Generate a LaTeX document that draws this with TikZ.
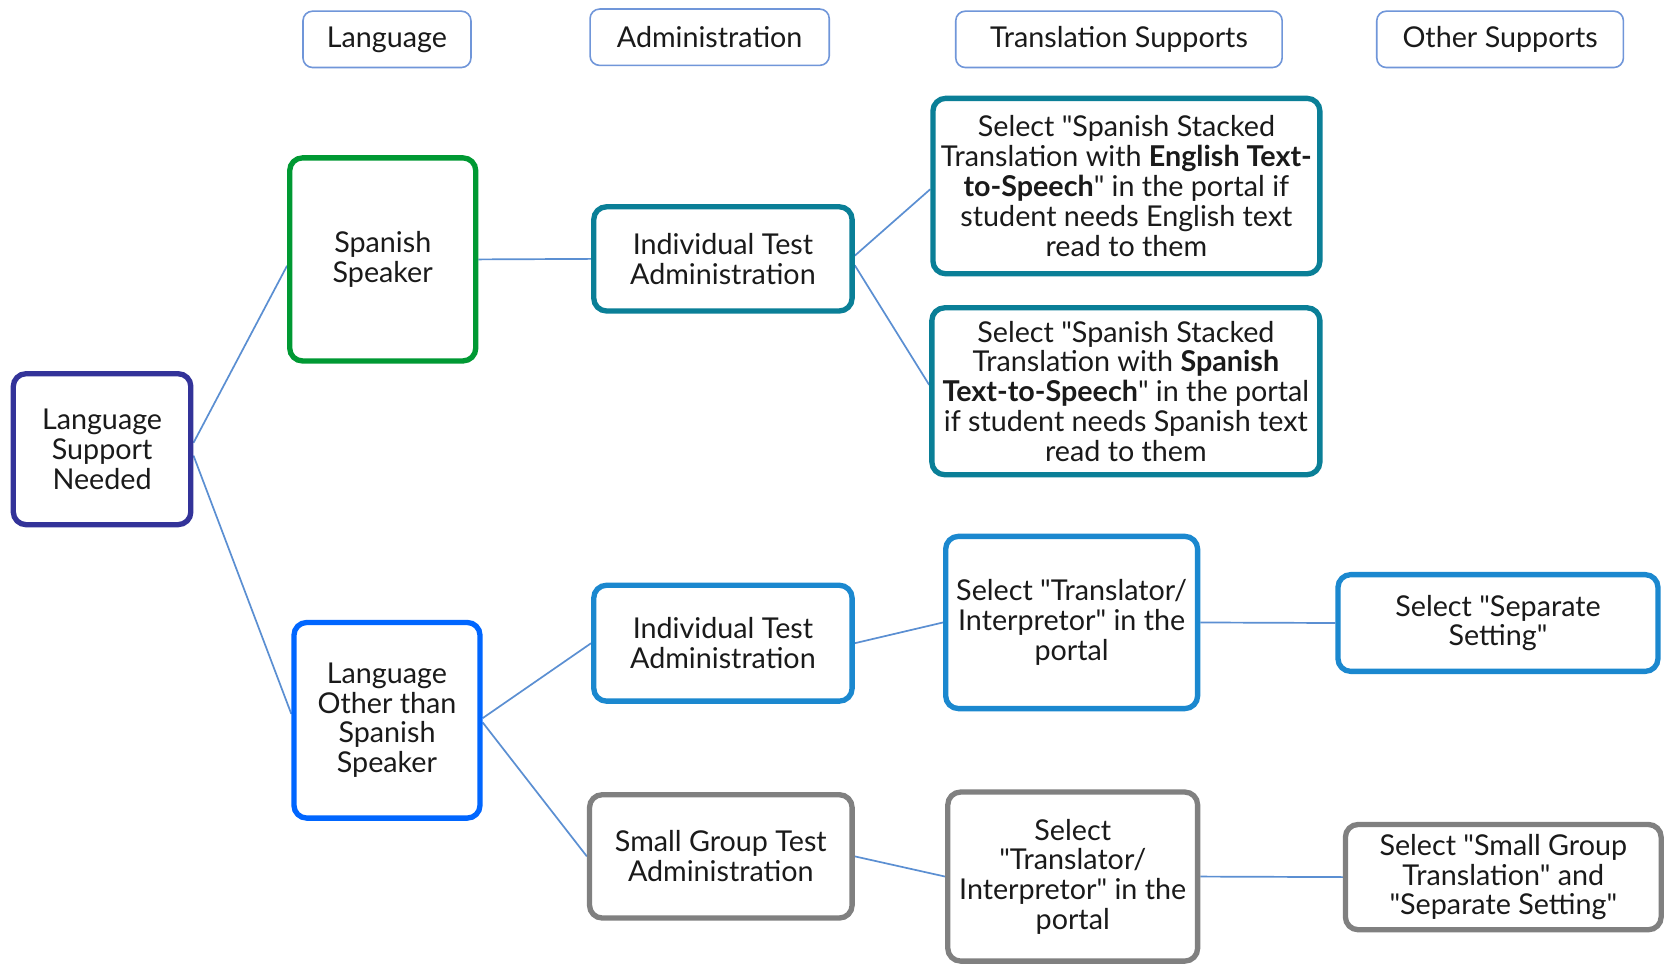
\documentclass[tikz,border=0pt]{standalone}
\usepackage{fontspec}
\setmainfont{Lato}[Ligatures=TeXOff]
\usetikzlibrary{backgrounds}
\pgfdeclarelayer{bgzero}
\pgfsetlayers{bgzero,background,main}
\definecolor{indigoc}{HTML}{333399}
\definecolor{greenc}{HTML}{009933}
\definecolor{tealc}{HTML}{0A7F97}
\definecolor{bluec}{HTML}{0066FF}
\definecolor{medblue}{HTML}{1B88CF}
\definecolor{grayc}{HTML}{808080}
\definecolor{linec}{HTML}{5B8FD2}
\definecolor{hdrc}{HTML}{7096D9}
\definecolor{txtc}{HTML}{1A1A1A}
\begin{document}
\begin{tikzpicture}[x=1pt,y=-1pt,font=\fontsize{27}{28}\selectfont,
  box/.style={draw, rounded corners=12pt, line width=5pt, fill=white, align=center, inner sep=0pt, text=txtc},
  hdr/.style={draw=hdrc, rounded corners=9pt, line width=1.5pt, fill=white, align=center, inner sep=0pt, text=txtc, minimum height=53pt},
  conn/.style={draw=linec, line width=1.6pt}]
\begin{pgfonlayer}{bgzero}
\useasboundingbox[fill=white] (0,0) rectangle (1568,908.6);
\end{pgfonlayer}
% headers
\node[hdr, minimum width=158pt] (h1) at (364,37) {Language};
\node[hdr, minimum width=225pt] (h2) at (667.5,35) {Administration};
\node[hdr, minimum width=307pt] (h3) at (1052.5,37) {Translation Supports};
\node[hdr, minimum width=232pt] (h4) at (1411,37) {Other Supports};
% main nodes
\node[box, draw=indigoc, minimum width=167pt, minimum height=142pt] (lsn) at (96,422.5) {Language\\Support\\Needed};
\node[box, draw=greenc, minimum width=175pt, minimum height=191pt] (ss) at (360,244) {Spanish\\Speaker};
\node[box, draw=tealc, minimum width=243pt, minimum height=98pt] (ita1) at (680,243.5) {Individual Test\\Administration};
\node[box, draw=tealc, minimum width=364pt, minimum height=165pt] (t1) at (1059.5,175) {Select "Spanish Stacked\\Translation with {\bfseries English Text-}\\{\bfseries to-Speech}" in the portal if\\student needs English text\\read to them};
\node[box, draw=tealc, minimum width=365pt, minimum height=157pt] (t2) at (1059,368) {Select "Spanish Stacked\\Translation with {\bfseries Spanish}\\{\bfseries Text-to-Speech}" in the portal\\if student needs Spanish text\\read to them};
\node[box, draw=bluec, minimum width=175pt, minimum height=184pt] (los) at (364,677.5) {Language\\Other than\\Spanish\\Speaker};
\node[box, draw=medblue, minimum width=243pt, minimum height=109pt] (ita2) at (680,605) {Individual Test\\Administration};
\node[box, draw=medblue, minimum width=237pt, minimum height=162pt] (ti1) at (1008,585.5) {Select "Translator/\\Interpretor" in the\\portal};
\node[box, draw=medblue, minimum width=301pt, minimum height=91pt] (sep) at (1409,586) {Select "Separate\\Setting"};
\node[box, draw=grayc, minimum width=247pt, minimum height=116pt] (sg) at (678,805.5) {Small Group Test\\Administration};
\node[box, draw=grayc, minimum width=235pt, minimum height=159pt] (ti2) at (1009,824.5) {Select\\"Translator/\\Interpretor" in the\\portal};
\node[box, draw=grayc, minimum width=297pt, minimum height=99pt] (sgt) at (1414,825) {Select "Small Group\\Translation" and\\"Separate Setting"};
% connectors
\begin{scope}[on background layer]
\draw[conn] ([yshift=6pt]lsn.east) -- ([yshift=-6pt]ss.west);
\draw[conn] ([yshift=-6pt]lsn.east) -- ([yshift=6pt]los.west);
\draw[conn] (ss.east) -- (ita1.west);
\draw[conn] ([yshift=3pt]ita1.east) -- ([yshift=-3pt]t1.west);
\draw[conn] ([yshift=-6pt]ita1.east) -- ([yshift=6pt]t2.west);
\draw[conn] ([yshift=2pt]los.east) -- (ita2.west);
\draw[conn] ([yshift=-2pt]los.east) -- (sg.west);
\draw[conn] (ita2.east) -- (ti1.west);
\draw[conn] (ti1.east) -- (sep.west);
\draw[conn] (sg.east) -- (ti2.west);
\draw[conn] (ti2.east) -- (sgt.west);
\end{scope}
\end{tikzpicture}
\end{document}
